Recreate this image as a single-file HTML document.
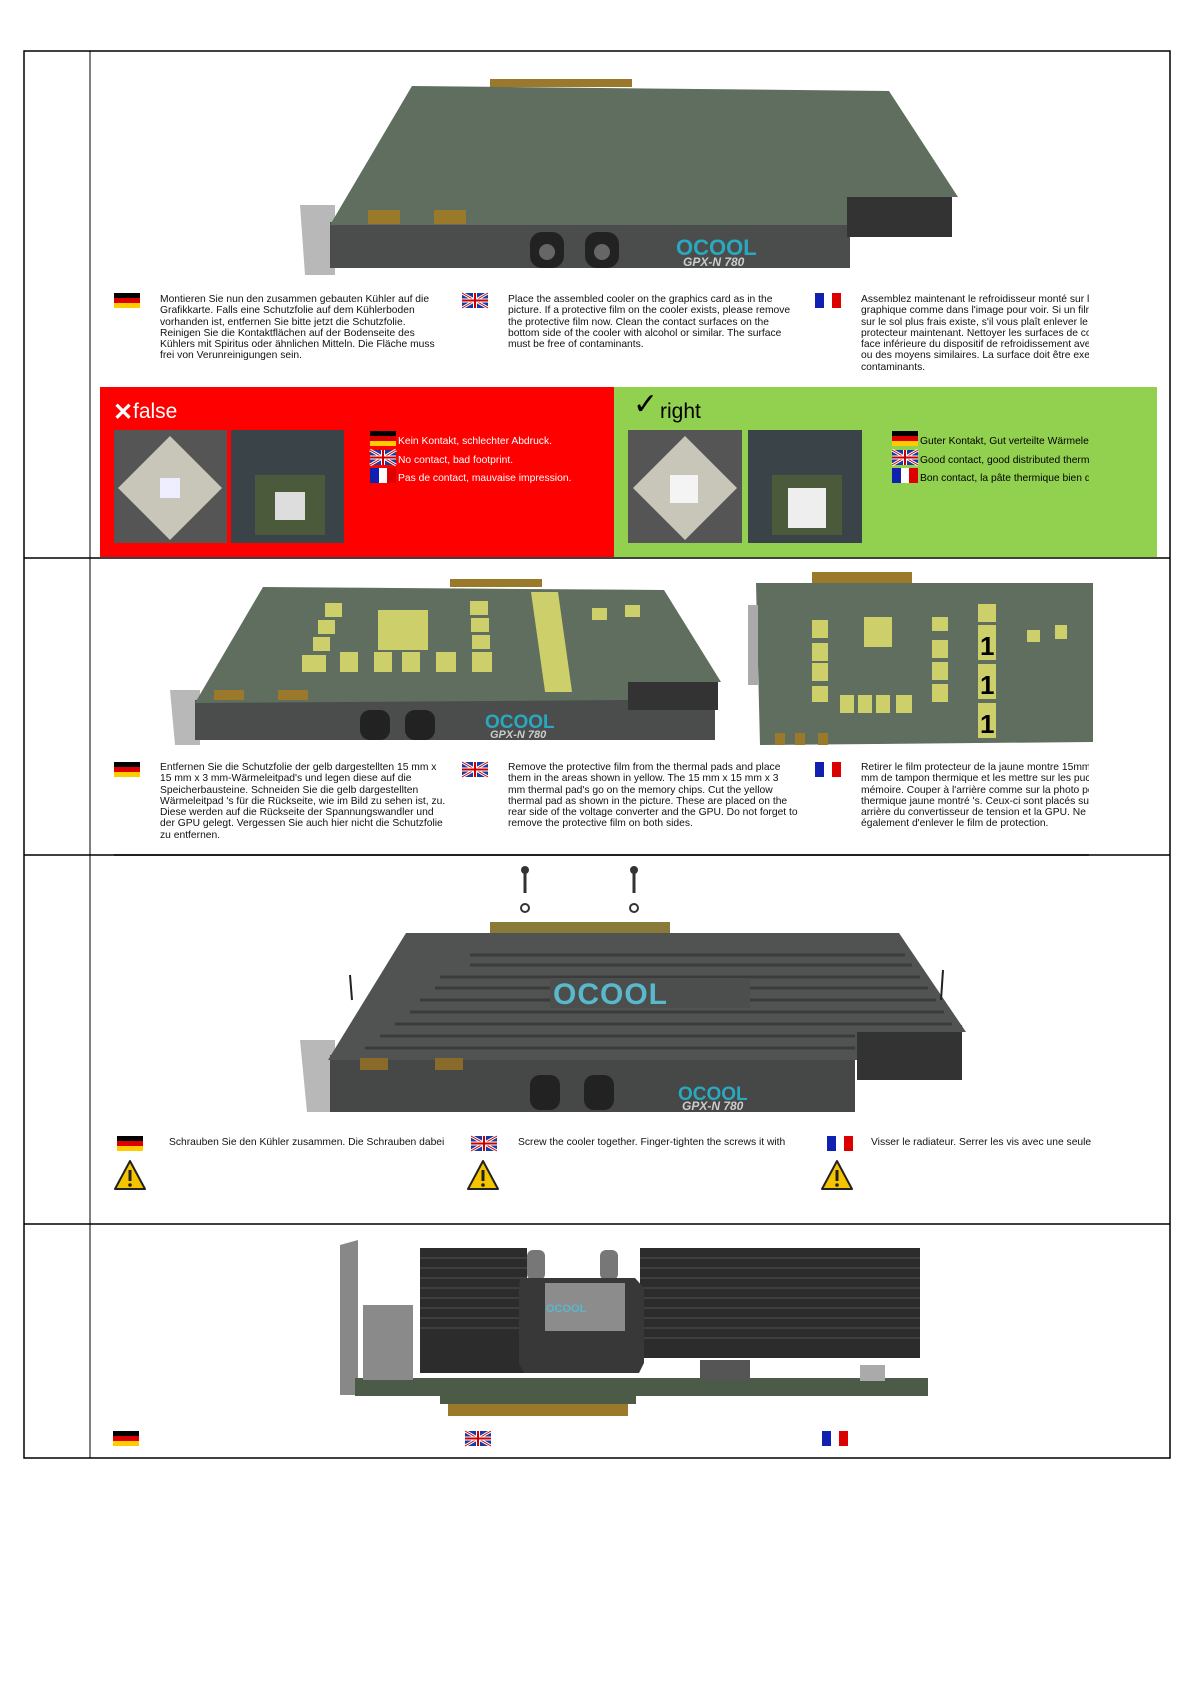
<!DOCTYPE html>
<html><head><meta charset="utf-8"><style>
body{margin:0;width:1191px;height:1685px;background:#fff;position:relative;overflow:hidden;font-family:"Liberation Sans",sans-serif;}
.t{position:absolute;font-size:10.3px;line-height:11.3px;color:#111;white-space:nowrap;}
.ab{position:absolute;}
.w{color:#fff}
</style></head><body>
<svg class="ab" style="left:0;top:0" width="1191" height="1685" xmlns="http://www.w3.org/2000/svg">
<defs>
<g id="de"><rect width="26" height="5" fill="#000"/><rect y="5" width="26" height="5" fill="#d00"/><rect y="10" width="26" height="5" fill="#fc0"/></g>
<g id="uk"><rect width="26" height="15" fill="#1a3aa0"/><path d="M0 0L26 15M26 0L0 15" stroke="#fff" stroke-width="3"/><path d="M0 0L26 15M26 0L0 15" stroke="#c00" stroke-width="1"/><path d="M13 0V15M0 7.5H26" stroke="#fff" stroke-width="4"/><path d="M13 0V15M0 7.5H26" stroke="#c00" stroke-width="2"/></g>
<g id="fr"><rect width="9" height="15" fill="#1020b0"/><rect x="9" width="8" height="15" fill="#fff"/><rect x="17" width="9" height="15" fill="#d00"/></g>
<g id="warn"><path d="M16 1L31 29H1Z" fill="#f5c400" stroke="#222" stroke-width="2" stroke-linejoin="round"/><rect x="14.5" y="10" width="3" height="11" fill="#222"/><circle cx="16" cy="25" r="1.8" fill="#222"/></g>
</defs>
<rect x="24" y="51" width="1146" height="1407" fill="none" stroke="#000" stroke-width="1.5"/>
<line x1="90" y1="51" x2="90" y2="1458" stroke="#000" stroke-width="1"/>
<line x1="24" y1="558" x2="1170" y2="558" stroke="#000" stroke-width="1.5"/>
<line x1="24" y1="855" x2="1170" y2="855" stroke="#000" stroke-width="1.5"/>
<line x1="24" y1="1224" x2="1170" y2="1224" stroke="#000" stroke-width="1.5"/>

<rect x="490" y="79" width="142" height="8" fill="#9a7a2a"/>
<path d="M300 205h35v70h-30z" fill="#b8b8b8"/>
<rect x="330" y="222" width="520" height="46" fill="#4a4d4c"/>
<rect x="847" y="197" width="105" height="40" fill="#333"/>
<polygon points="412,86 889,91 958,197 847,197 847,225 330,225" fill="#5f6e5f"/>
<rect x="368" y="210" width="32" height="14" fill="#9a7a2a"/><rect x="434" y="210" width="32" height="14" fill="#9a7a2a"/>
<rect x="530" y="232" width="34" height="36" rx="12" fill="#222"/><rect x="585" y="232" width="34" height="36" rx="12" fill="#222"/>
<circle cx="547" cy="252" r="8" fill="#666"/><circle cx="602" cy="252" r="8" fill="#666"/>
<text x="676" y="255" font-family="Liberation Sans" font-weight="bold" font-size="22" fill="#2aa8c0">OCOOL</text>
<text x="683" y="266" font-family="Liberation Sans" font-style="italic" font-weight="bold" font-size="12" fill="#ccc">GPX-N 780</text>

<rect x="100" y="387" width="514" height="170" fill="#ff0000"/>
<rect x="614" y="387" width="543" height="170" fill="#92d050"/>
<rect x="114" y="430" width="113" height="113" fill="#555"/><polygon points="170,436 222,488 170,540 118,488" fill="#c8c6b8"/><rect x="160" y="478" width="20" height="20" fill="#eef"/>
<rect x="231" y="430" width="113" height="113" fill="#3a4448"/><rect x="255" y="475" width="70" height="60" fill="#4a5a3a"/><rect x="275" y="492" width="30" height="28" fill="#ddd"/>
<rect x="628" y="430" width="114" height="113" fill="#555"/><polygon points="685,436 737,488 685,540 633,488" fill="#c8c6b8"/><rect x="670" y="475" width="28" height="28" fill="#f4f4f4"/>
<rect x="748" y="430" width="114" height="113" fill="#3a4448"/><rect x="772" y="475" width="70" height="60" fill="#4a5a3a"/><rect x="788" y="488" width="38" height="40" fill="#eee"/>
<use href="#de" x="370" y="431"/><use href="#uk" x="370" y="450"/><use href="#fr" x="370" y="468"/>
<use href="#de" x="892" y="431"/><use href="#uk" x="892" y="450"/><use href="#fr" x="892" y="468"/>
<text x="113" y="420" font-size="24" font-weight="bold" fill="#fff">✕</text>
<text x="633" y="414" font-size="30" fill="#000">✓</text>

<rect x="450" y="579" width="92" height="8" fill="#9a7a2a"/>
<path d="M170 690h30v55h-25z" fill="#b8b8b8"/>
<rect x="195" y="700" width="520" height="40" fill="#4a4d4c"/>
<polygon points="263,587 664,590 721,682 628,682 628,700 195,703" fill="#5f6e5f"/>
<rect x="628" y="682" width="90" height="28" fill="#333"/>
<g fill="#cdd06a">
<rect x="325" y="603" width="17" height="14"/><rect x="318" y="620" width="17" height="14"/><rect x="313" y="637" width="17" height="14"/><rect x="302" y="655" width="24" height="17"/>
<rect x="378" y="610" width="50" height="40"/>
<rect x="340" y="652" width="18" height="20"/><rect x="374" y="652" width="18" height="20"/><rect x="402" y="652" width="18" height="20"/><rect x="436" y="652" width="20" height="20"/>
<rect x="470" y="601" width="18" height="14"/><rect x="471" y="618" width="18" height="14"/><rect x="472" y="635" width="18" height="14"/><rect x="472" y="652" width="20" height="20"/>
<rect x="531" y="592" width="27" height="100" transform="skewX(8)" transform-origin="531 592"/>
<rect x="592" y="608" width="15" height="12"/><rect x="625" y="605" width="15" height="12"/>
</g>
<rect x="214" y="690" width="30" height="10" fill="#9a7a2a"/><rect x="278" y="690" width="30" height="10" fill="#9a7a2a"/>
<rect x="360" y="710" width="30" height="30" rx="10" fill="#222"/><rect x="405" y="710" width="30" height="30" rx="10" fill="#222"/>
<text x="485" y="728" font-weight="bold" font-size="19" fill="#2aa8c0">OCOOL</text>
<text x="490" y="738" font-style="italic" font-weight="bold" font-size="11" fill="#ccc">GPX-N 780</text>
<rect x="812" y="572" width="100" height="12" fill="#9a7a2a"/>
<polygon points="756,583 1093,583 1093,742 760,745" fill="#5f6e5f"/>
<rect x="748" y="605" width="10" height="80" fill="#aaa"/>
<g fill="#cdd06a">
<rect x="864" y="617" width="28" height="30"/><rect x="812" y="620" width="16" height="18"/><rect x="812" y="643" width="16" height="18"/><rect x="812" y="663" width="16" height="18"/><rect x="812" y="686" width="16" height="16"/>
<rect x="840" y="695" width="14" height="18"/><rect x="858" y="695" width="14" height="18"/><rect x="876" y="695" width="14" height="18"/><rect x="896" y="695" width="16" height="18"/>
<rect x="932" y="617" width="16" height="14"/><rect x="932" y="640" width="16" height="18"/><rect x="932" y="662" width="16" height="18"/><rect x="932" y="684" width="16" height="18"/>
<rect x="978" y="604" width="18" height="18"/><rect x="978" y="625" width="18" height="35"/><rect x="978" y="664" width="18" height="35"/><rect x="978" y="703" width="18" height="35"/>
<rect x="1027" y="630" width="13" height="12"/><rect x="1055" y="625" width="12" height="14"/>
</g>
<text x="980" y="655" font-size="26" font-weight="bold" fill="#000">1</text>
<text x="980" y="694" font-size="26" font-weight="bold" fill="#000">1</text>
<text x="980" y="733" font-size="26" font-weight="bold" fill="#000">1</text>
<rect x="775" y="733" width="10" height="12" fill="#9a7a2a"/><rect x="795" y="733" width="10" height="12" fill="#9a7a2a"/><rect x="818" y="733" width="10" height="12" fill="#9a7a2a"/>

<g stroke="#333" stroke-width="3"><line x1="525" y1="870" x2="525" y2="893"/><line x1="634" y1="870" x2="634" y2="893"/></g>
<circle cx="525" cy="870" r="4" fill="#333"/><circle cx="634" cy="870" r="4" fill="#333"/>
<circle cx="525" cy="908" r="4" fill="none" stroke="#333" stroke-width="2"/><circle cx="634" cy="908" r="4" fill="none" stroke="#333" stroke-width="2"/>
<rect x="490" y="922" width="180" height="12" fill="#8a7a3a"/>
<path d="M300 1040h35v72h-28z" fill="#b8b8b8"/>
<rect x="330" y="1055" width="525" height="57" fill="#454847"/>
<rect x="857" y="1025" width="105" height="55" fill="#333"/>
<polygon points="406,933 899,933 966,1032 857,1032 857,1060 328,1060" fill="#505352"/>
<g stroke="#3a3c3b" stroke-width="3">
<line x1="470" y1="955" x2="905" y2="955"/><line x1="470" y1="965" x2="912" y2="965"/><line x1="440" y1="977" x2="920" y2="977"/><line x1="435" y1="988" x2="928" y2="988"/><line x1="420" y1="1000" x2="936" y2="1000"/><line x1="410" y1="1012" x2="944" y2="1012"/><line x1="395" y1="1024" x2="952" y2="1024"/><line x1="380" y1="1036" x2="855" y2="1036"/><line x1="365" y1="1048" x2="855" y2="1048"/>
</g>
<rect x="550" y="978" width="200" height="30" fill="#4b4e4d"/>
<text x="553" y="1004" font-weight="bold" font-size="30" fill="#5ab8cc" letter-spacing="1">OCOOL</text>
<g stroke="#222" stroke-width="2"><line x1="350" y1="975" x2="352" y2="1000"/><line x1="943" y1="970" x2="941" y2="1000"/></g>
<rect x="360" y="1058" width="28" height="12" fill="#8a6a2a"/><rect x="435" y="1058" width="28" height="12" fill="#8a6a2a"/>
<rect x="530" y="1075" width="30" height="35" rx="10" fill="#222"/><rect x="584" y="1075" width="30" height="35" rx="10" fill="#222"/>
<text x="678" y="1100" font-weight="bold" font-size="19" fill="#2aa8c0">OCOOL</text>
<text x="682" y="1110" font-style="italic" font-weight="bold" font-size="12" fill="#ccc">GPX-N 780</text>

<path d="M340 1245l18 -5 v155 h-18z" fill="#888"/>
<rect x="355" y="1378" width="573" height="18" fill="#4c5a48"/>
<path d="M360 1392h80v12h8v12h180v-12h8v-12h-276z" fill="#4c5a48"/>
<rect x="448" y="1404" width="180" height="12" fill="#9a7a2a"/>
<rect x="420" y="1248" width="107" height="125" fill="#2c2c2c"/>
<rect x="640" y="1248" width="280" height="110" fill="#2c2c2c"/>
<g stroke="#444" stroke-width="1.5">
<line x1="420" y1="1258" x2="527" y2="1258"/><line x1="420" y1="1268" x2="527" y2="1268"/><line x1="420" y1="1278" x2="527" y2="1278"/><line x1="420" y1="1288" x2="527" y2="1288"/><line x1="420" y1="1298" x2="527" y2="1298"/><line x1="420" y1="1308" x2="527" y2="1308"/><line x1="420" y1="1318" x2="527" y2="1318"/><line x1="420" y1="1328" x2="527" y2="1328"/>
<line x1="640" y1="1258" x2="920" y2="1258"/><line x1="640" y1="1268" x2="920" y2="1268"/><line x1="640" y1="1278" x2="920" y2="1278"/><line x1="640" y1="1288" x2="920" y2="1288"/><line x1="640" y1="1298" x2="920" y2="1298"/><line x1="640" y1="1308" x2="920" y2="1308"/><line x1="640" y1="1318" x2="920" y2="1318"/><line x1="640" y1="1328" x2="920" y2="1328"/><line x1="640" y1="1338" x2="920" y2="1338"/>
</g>
<rect x="363" y="1305" width="50" height="75" fill="#8a8a8a"/>
<rect x="527" y="1250" width="18" height="30" rx="6" fill="#777"/><rect x="600" y="1250" width="18" height="30" rx="6" fill="#777"/>
<path d="M520 1278h115l9 10v75l-5 10h-115l-5-10v-75z" fill="#383838"/>
<rect x="545" y="1283" width="80" height="48" fill="#8c8c8c"/>
<text x="546" y="1312" font-weight="bold" font-size="11" fill="#5ab8cc">OCOOL</text>
<rect x="700" y="1360" width="50" height="20" fill="#555"/><rect x="860" y="1365" width="25" height="16" fill="#aaa"/>

<use href="#de" x="114" y="293"/><use href="#uk" x="462" y="293"/><use href="#fr" x="815" y="293"/>
<use href="#de" x="114" y="762"/><use href="#uk" x="462" y="762"/><use href="#fr" x="815" y="762"/>
<use href="#de" x="117" y="1136"/><use href="#uk" x="471" y="1136"/><use href="#fr" x="827" y="1136"/>
<use href="#warn" x="114" y="1160"/><use href="#warn" x="467" y="1160"/><use href="#warn" x="821" y="1160"/>
<use href="#de" x="113" y="1431"/><use href="#uk" x="465" y="1431"/><use href="#fr" x="822" y="1431"/>
<line x1="114" y1="855" x2="1089" y2="855" stroke="#000" stroke-width="1.5"/>
</svg>

<div class="t" style="left:160px;top:294px">Montieren Sie nun den zusammen gebauten Kühler auf die<br>Grafikkarte. Falls eine Schutzfolie auf dem Kühlerboden<br>vorhanden ist, entfernen Sie bitte jetzt die Schutzfolie.<br>Reinigen Sie die Kontaktflächen auf der Bodenseite des<br>Kühlers mit Spiritus oder ähnlichen Mitteln. Die Fläche muss<br>frei von Verunreinigungen sein.</div>
<div class="t" style="left:508px;top:294px">Place the assembled cooler on the graphics card as in the<br>picture. If a protective film on the cooler exists, please remove<br>the protective film now. Clean the contact surfaces on the<br>bottom side of the cooler with alcohol or similar. The surface<br>must be free of contaminants.</div>
<div class="t" style="left:861px;top:294px;width:228px;overflow:hidden">Assemblez maintenant le refroidisseur monté sur la<br>graphique comme dans l'image pour voir. Si un film<br>sur le sol plus frais existe, s'il vous plaît enlever le f<br>protecteur maintenant. Nettoyer les surfaces de con<br>face inférieure du dispositif de refroidissement avec<br>ou des moyens similaires. La surface doit être exen<br>contaminants.</div>

<div class="ab w" style="left:133px;top:400px;font-size:21px">false</div>
<div class="ab" style="left:660px;top:400px;font-size:21px">right</div>
<div class="ab w" style="left:398px;top:433px;font-size:10.3px;line-height:18.5px">Kein Kontakt, schlechter Abdruck.<br>No contact, bad footprint.<br>Pas de contact, mauvaise impression.</div>
<div class="ab" style="left:920px;top:433px;width:169px;overflow:hidden;white-space:nowrap;font-size:10.3px;line-height:18.5px">Guter Kontakt, Gut verteilte Wärmeleitpaste.<br>Good contact, good distributed thermal paste.<br>Bon contact, la pâte thermique bien distribuée.</div>

<div class="t" style="left:160px;top:762px">Entfernen Sie die Schutzfolie der gelb dargestellten 15 mm x<br>15 mm x 3 mm-Wärmeleitpad's und legen diese auf die<br>Speicherbausteine. Schneiden Sie die gelb dargestellten<br>Wärmeleitpad 's für die Rückseite, wie im Bild zu sehen ist, zu.<br>Diese werden auf die Rückseite der Spannungswandler und<br>der GPU gelegt. Vergessen Sie auch hier nicht die Schutzfolie<br>zu entfernen.</div>
<div class="t" style="left:508px;top:762px">Remove the protective film from the thermal pads and place<br>them in the areas shown in yellow. The 15 mm x 15 mm x 3<br>mm thermal pad's go on the memory chips. Cut the yellow<br>thermal pad as shown in the picture. These are placed on the<br>rear side of the voltage converter and the GPU. Do not forget to<br>remove the protective film on both sides.</div>
<div class="t" style="left:861px;top:762px;width:228px;overflow:hidden">Retirer le film protecteur de la jaune montre 15mm x<br>mm de tampon thermique et les mettre sur les puces<br>mémoire. Couper à l'arrière comme sur la photo pour<br>thermique jaune montré 's. Ceux-ci sont placés sur<br>arrière du convertisseur de tension et la GPU. Ne pas<br>également d'enlever le film de protection.</div>

<div class="t" style="left:169px;top:1137px;height:11px;overflow:hidden">Schrauben Sie den Kühler zusammen. Die Schrauben dabei</div>
<div class="t" style="left:518px;top:1137px;height:11px;overflow:hidden">Screw the cooler together. Finger-tighten the screws it with</div>
<div class="t" style="left:871px;top:1137px;height:11px;overflow:hidden">Visser le radiateur. Serrer les vis avec une seule</div>
</body></html>
